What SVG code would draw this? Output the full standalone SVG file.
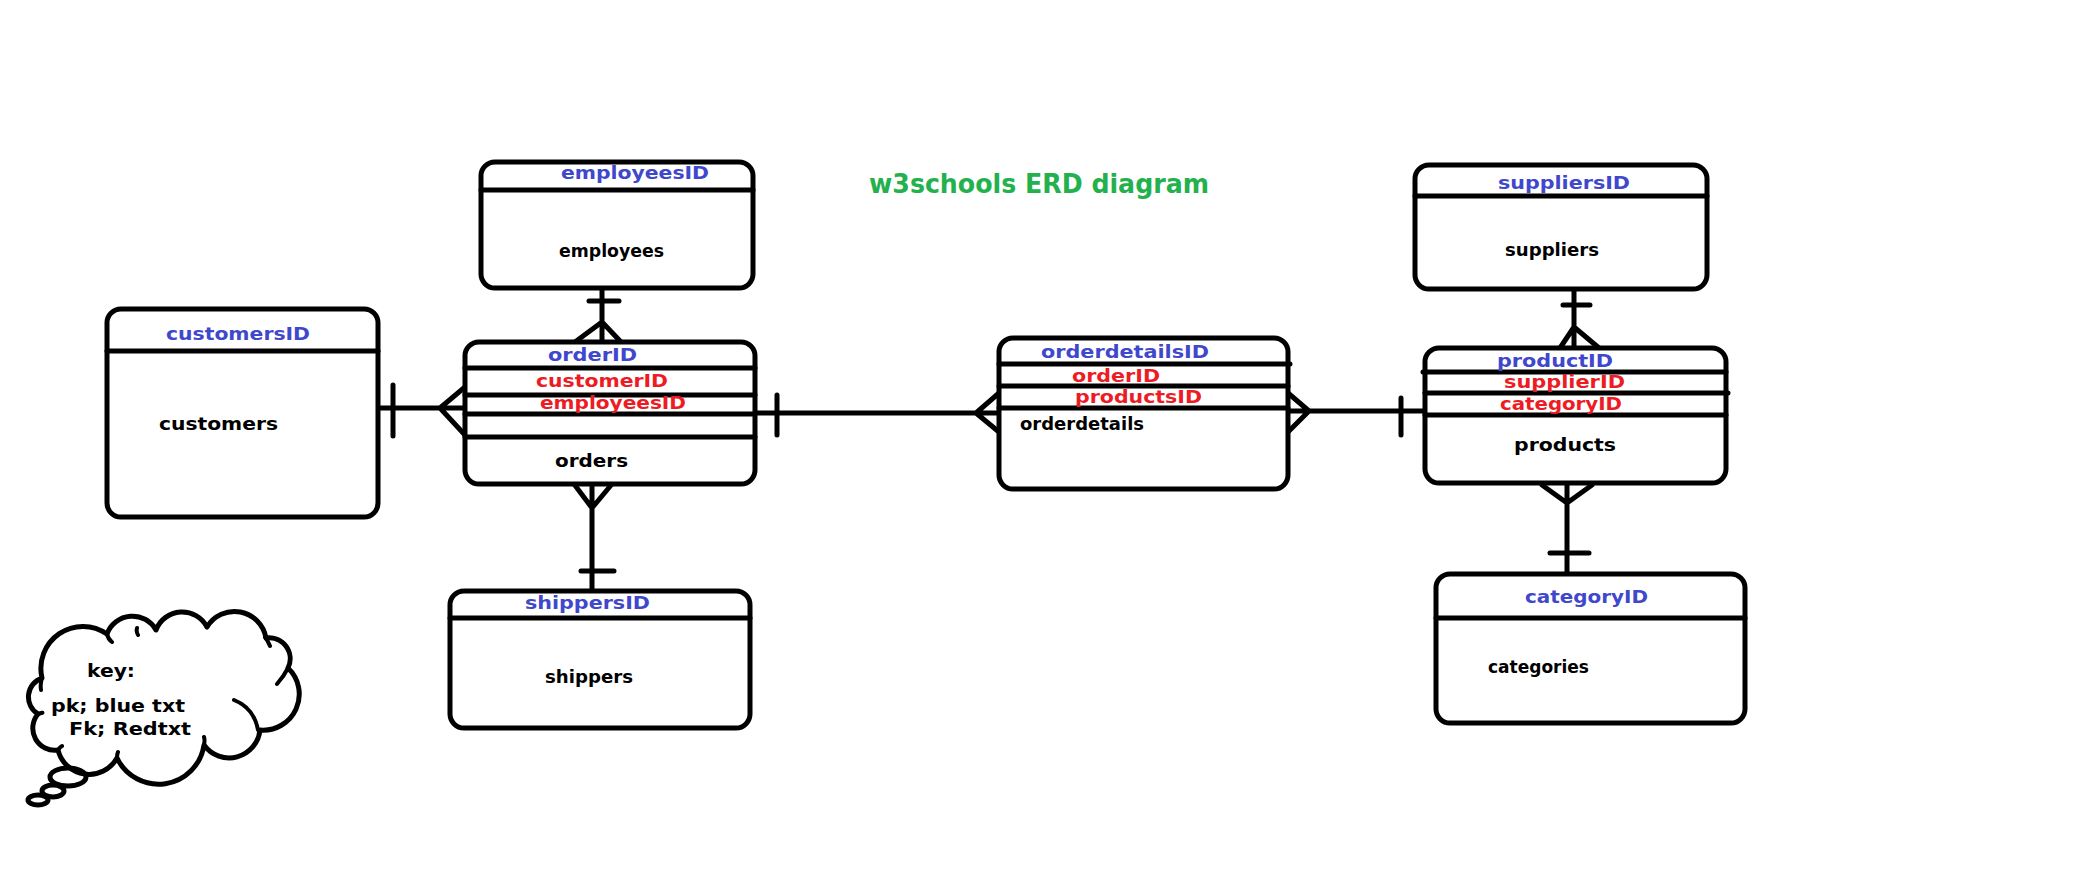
<svg xmlns="http://www.w3.org/2000/svg" width="2080" height="882" viewBox="0 0 2080 882">
<style>
.box{fill:#fff;stroke:#000;stroke-width:5}
.ln{stroke:#000;stroke-width:5;fill:none;stroke-linecap:round;stroke-linejoin:round}
.tk{stroke:#000;stroke-width:4;fill:none;stroke-linecap:round}
text{font-family:"DejaVu Sans Condensed","DejaVu Sans",sans-serif;font-weight:bold;font-size:18px}
.pk{fill:#3f48cc}
.fk{fill:#ed1c24}
.nm{fill:#000}
.title{fill:#22b14c;font-size:26px}
</style>
<rect width="2080" height="882" fill="#fff"/>
<text class="title" x="869" y="193" textLength="340" lengthAdjust="spacingAndGlyphs">w3schools ERD diagram</text>

<g id="connectors" class="ln">
<path d="M378 408H465M393 385V436M465 387L440 408L465 435"/>
<path d="M602 288V342M589 301H619M575 342L602 322L621 342"/>
<path d="M592 484V591M574 484L592 508L612 484M581 571H614"/>
<path d="M755 413H999M777 395V435M999 393L976 413L999 432"/>
<path d="M1288 411H1425M1288 393L1309 411L1288 432M1401 398V435"/>
<path d="M1574 289V348M1563 305H1590M1560 348L1574 327L1599 348"/>
<path d="M1567 483V574M1542 485L1567 503L1592 485M1550 553H1589"/>
</g>

<g id="customers">
<rect class="box" x="107" y="309" width="271" height="208" rx="14"/>
<path class="ln" d="M107 351H378"/>
<text class="pk" x="166" y="340" textLength="144" lengthAdjust="spacingAndGlyphs">customersID</text>
<text class="nm" x="159" y="430" textLength="119" lengthAdjust="spacingAndGlyphs">customers</text>
</g>

<g id="employees">
<rect class="box" x="481" y="162" width="272" height="126" rx="14"/>
<path class="ln" d="M481 190H753"/>
<text class="pk" x="561" y="179" textLength="148" lengthAdjust="spacingAndGlyphs">employeesID</text>
<text class="nm" x="559" y="257" textLength="105" lengthAdjust="spacingAndGlyphs">employees</text>
</g>

<g id="orders">
<rect class="box" x="465" y="342" width="290" height="142" rx="14"/>
<path class="ln" d="M465 368H755M465 395H755M465 414H755M465 437H755"/>
<text class="pk" x="548" y="361" textLength="89" lengthAdjust="spacingAndGlyphs">orderID</text>
<text class="fk" x="536" y="387" textLength="132" lengthAdjust="spacingAndGlyphs">customerID</text>
<text class="fk" x="540" y="409" textLength="146" lengthAdjust="spacingAndGlyphs">employeesID</text>
<text class="nm" x="555" y="467" textLength="73" lengthAdjust="spacingAndGlyphs">orders</text>
</g>

<g id="shippers">
<rect class="box" x="450" y="591" width="300" height="137" rx="14"/>
<path class="ln" d="M450 618H750"/>
<text class="pk" x="525" y="609" textLength="125" lengthAdjust="spacingAndGlyphs">shippersID</text>
<text class="nm" x="545" y="683" textLength="88" lengthAdjust="spacingAndGlyphs">shippers</text>
</g>

<g id="orderdetails">
<rect class="box" x="999" y="338" width="289" height="151" rx="14"/>
<path class="ln" d="M999 364H1290M999 386H1288M999 408H1288"/>
<text class="pk" x="1041" y="358" textLength="168" lengthAdjust="spacingAndGlyphs">orderdetailsID</text>
<text class="fk" x="1072" y="382" textLength="88" lengthAdjust="spacingAndGlyphs">orderID</text>
<text class="fk" x="1075" y="403" textLength="127" lengthAdjust="spacingAndGlyphs">productsID</text>
<text class="nm" x="1020" y="430" textLength="124" lengthAdjust="spacingAndGlyphs">orderdetails</text>
</g>

<g id="suppliers">
<rect class="box" x="1415" y="165" width="292" height="124" rx="14"/>
<path class="ln" d="M1415 196H1707"/>
<text class="pk" x="1498" y="189" textLength="132" lengthAdjust="spacingAndGlyphs">suppliersID</text>
<text class="nm" x="1505" y="256" textLength="94" lengthAdjust="spacingAndGlyphs">suppliers</text>
</g>

<g id="products">
<rect class="box" x="1425" y="348" width="301" height="135" rx="14"/>
<path class="ln" d="M1423 372H1726M1425 393H1728M1425 415H1726"/>
<text class="pk" x="1497" y="367" textLength="116" lengthAdjust="spacingAndGlyphs">productID</text>
<text class="fk" x="1504" y="388" textLength="121" lengthAdjust="spacingAndGlyphs">supplierID</text>
<text class="fk" x="1500" y="410" textLength="122" lengthAdjust="spacingAndGlyphs">categoryID</text>
<text class="nm" x="1514" y="451" textLength="102" lengthAdjust="spacingAndGlyphs">products</text>
</g>

<g id="categories">
<rect class="box" x="1436" y="574" width="309" height="149" rx="14"/>
<path class="ln" d="M1436 618H1745"/>
<text class="pk" x="1525" y="603" textLength="123" lengthAdjust="spacingAndGlyphs">categoryID</text>
<text class="nm" x="1488" y="673" textLength="101" lengthAdjust="spacingAndGlyphs">categories</text>
</g>

<g id="key">
<path class="ln" fill="#fff" d="M42 678 A20 20 0 0 0 38 714 A22 22 0 0 0 58 750 A32 32 0 0 0 117 758 A46 46 0 0 0 204 745 A31 31 0 0 0 260 730 A36 36 0 0 0 288 668 A21 21 0 0 0 266 638 A32 32 0 0 0 207 627 A28 28 0 0 0 156 630 A27 27 0 0 0 107 634 A42 42 0 0 0 42 678 Z"/>
<path class="tk" d="M107 634Q108 639 112 642M137 628Q136 632 138 635M265 637Q268 641 270 646M288 668Q284 676 277 684M234 700Q254 708 258 730M42 678Q40 684 41 690M38 714Q44 712 42 713M58 750Q60 747 62 746M117 758Q117 754 118 752M204 745Q205 740 204 737"/>
<ellipse class="ln" cx="68" cy="777" rx="18" ry="9"/>
<ellipse class="ln" cx="53" cy="791" rx="11" ry="6"/>
<ellipse class="ln" cx="38" cy="800" rx="10" ry="5"/>
<text class="nm" x="87" y="677" font-size="17" textLength="48" lengthAdjust="spacingAndGlyphs">key:</text>
<text class="nm" x="51" y="712" font-size="17" textLength="134" lengthAdjust="spacingAndGlyphs">pk; blue txt</text>
<text class="nm" x="69" y="735" font-size="17" textLength="122" lengthAdjust="spacingAndGlyphs">Fk; Redtxt</text>
</g>
</svg>
